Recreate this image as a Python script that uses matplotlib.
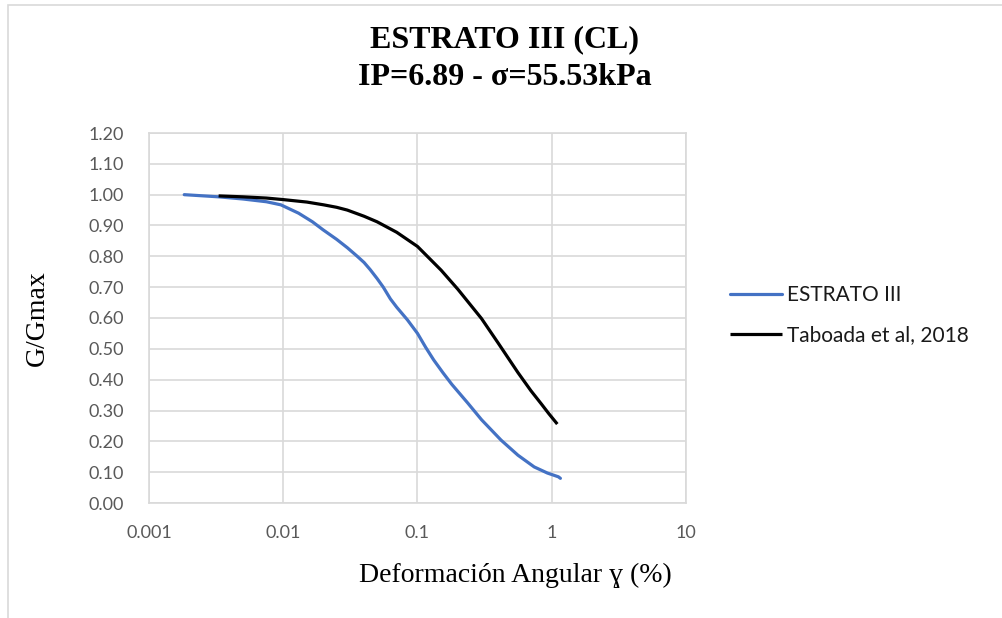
import matplotlib
matplotlib.use("Agg")
import matplotlib.pyplot as plt
from matplotlib.patches import Rectangle
from matplotlib.ticker import FixedLocator, FixedFormatter, NullLocator

# Modulus reduction curve, stratum III
estrato_x = [0.00183, 0.0033, 0.005, 0.0075, 0.0096, 0.013, 0.0165, 0.0198,
             0.025, 0.03, 0.0356, 0.04, 0.0444, 0.05, 0.0556, 0.0628, 0.07,
             0.0841, 0.1, 0.115, 0.132, 0.155, 0.18, 0.237, 0.3, 0.419,
             0.56, 0.74, 0.93, 1.12, 1.16]
estrato_y = [1.0, 0.993, 0.986, 0.977, 0.967, 0.940, 0.912, 0.886,
             0.855, 0.828, 0.80, 0.780, 0.757, 0.728, 0.70, 0.662, 0.635,
             0.594, 0.55, 0.505, 0.464, 0.422, 0.385, 0.324, 0.27, 0.204,
             0.155, 0.117, 0.097, 0.085, 0.08]

# Reference curve (Taboada et al, 2018)
taboada_x = [0.0033, 0.005, 0.0075, 0.01, 0.015, 0.02, 0.025, 0.03, 0.04,
             0.05, 0.07, 0.1, 0.15, 0.2, 0.3, 0.4, 0.5, 0.56, 0.7, 0.834,
             0.95, 1.1]
taboada_y = [0.996, 0.993, 0.989, 0.984, 0.976, 0.967, 0.959, 0.950, 0.930,
             0.912, 0.878, 0.832, 0.755, 0.693, 0.598, 0.518, 0.455, 0.423,
             0.364, 0.322, 0.29, 0.256]

x_ticks = [0.001, 0.01, 0.1, 1, 10]
x_tick_labels = ["0.001", "0.01", "0.1", "1", "10"]
y_ticks = [round(0.1 * i, 2) for i in range(13)]

title_lines = ["ESTRATO III (CL)", "IP=6.89 - σ=55.53kPa"]
x_label = "Deformación Angular ɣ (%)"
y_label = "G/Gmax"
series_names = ["ESTRATO III", "Taboada et al, 2018"]

grid_c = "#D9D9D9"
serif = ["Liberation Serif", "DejaVu Serif"]
sans = ["Lato", "DejaVu Sans"]

W, H = 1003, 618
fig = plt.figure(figsize=(W / 100, H / 100), dpi=100)
fig.patch.set_facecolor("white")

# chart border
fig.patches.append(Rectangle((8 / W, -0.1), 1.2, (613 / H) + 0.1,
                             transform=fig.transFigure, fill=False,
                             edgecolor=grid_c, linewidth=1.2))

ax = fig.add_axes([149 / W, 1 - 503 / H, 537 / W, 370 / H])
ax.set_xscale("log")
ax.set_xlim(0.001, 10)
ax.set_ylim(0, 1.2)

ax.plot(estrato_x, estrato_y, color="#4472C4", linewidth=2.3,
        solid_capstyle="round", solid_joinstyle="round",
        label=series_names[0], zorder=3)
ax.plot(taboada_x, taboada_y, color="black", linewidth=2.3,
        solid_capstyle="butt", solid_joinstyle="round",
        label=series_names[1], zorder=3)

ax.xaxis.set_major_locator(FixedLocator(x_ticks))
ax.xaxis.set_major_formatter(FixedFormatter(x_tick_labels))
ax.xaxis.set_minor_locator(NullLocator())
ax.set_yticks(y_ticks)
ax.set_yticklabels([f"{v:.2f}" for v in y_ticks])

ax.grid(True, which="major", color=grid_c, linewidth=1.2, zorder=0)
ax.set_axisbelow(True)
for s in ax.spines.values():
    s.set_color(grid_c)
    s.set_linewidth(1.2)
ax.tick_params(axis="both", length=0, labelsize=13, labelcolor="#595959")
ax.tick_params(axis="y", pad=18)
ax.tick_params(axis="x", pad=16)
for lab in ax.get_xticklabels() + ax.get_yticklabels():
    lab.set_family(sans)

fig.text(505 / W, 1 - 47 / H, title_lines[0], ha="center", va="baseline",
         fontsize=23, fontweight="bold", family=serif)
fig.text(505 / W, 1 - 85 / H, title_lines[1], ha="center", va="baseline",
         fontsize=23, fontweight="bold", family=serif)
fig.text(515 / W, 1 - 582 / H, x_label, ha="center", va="baseline",
         fontsize=20, family=serif)
fig.text(37 / W, 1 - 318 / H, y_label, ha="center", va="center",
         fontsize=20, family=serif, rotation=90)

leg = ax.legend(loc="center left", bbox_to_anchor=(730 / W, 1 - 315 / H),
                bbox_transform=fig.transFigure, frameon=False, borderpad=0,
                borderaxespad=0, prop={"family": sans, "size": 15},
                handlelength=2.5, handletextpad=0.25, labelspacing=0.95)
for t in leg.get_texts():
    t.set_color("#1a1a1a")

fig.savefig("out.png", dpi=100, facecolor="white")
